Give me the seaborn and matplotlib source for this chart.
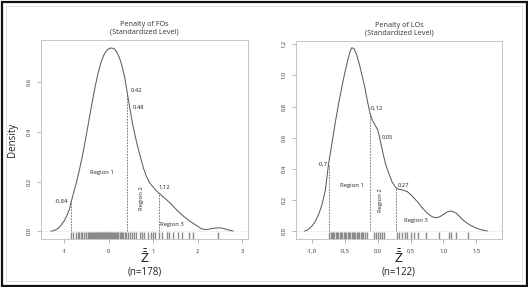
import matplotlib
matplotlib.use("Agg")
import matplotlib.pyplot as plt
import seaborn as sns
import numpy as np
import pandas as pd
from matplotlib.patches import Rectangle

# ---- density curves ----
fo_x = [-1.30, -1.25, -1.20, -1.12, -1.06, -1.00, -0.94, -0.88, -0.84, -0.78, -0.72, -0.66,
        -0.60, -0.54, -0.48, -0.42, -0.36, -0.30, -0.24, -0.18, -0.12, -0.06, 0.00, 0.06,
        0.12, 0.18, 0.24, 0.30, 0.36, 0.42, 0.48, 0.54, 0.60, 0.66, 0.72, 0.78, 0.85, 0.92,
        1.00, 1.06, 1.12, 1.20, 1.28, 1.38, 1.48, 1.56, 1.64, 1.72, 1.80, 1.90, 2.00, 2.08,
        2.16, 2.24, 2.32, 2.40, 2.48, 2.56, 2.64, 2.72, 2.80]
fo_y = [0.000, 0.002, 0.005, 0.014, 0.027, 0.042, 0.062, 0.090, 0.120, 0.160, 0.200, 0.245,
        0.295, 0.350, 0.410, 0.470, 0.530, 0.585, 0.635, 0.675, 0.705, 0.725, 0.735, 0.738,
        0.735, 0.722, 0.700, 0.665, 0.620, 0.555, 0.490, 0.430, 0.380, 0.335, 0.295, 0.255,
        0.220, 0.195, 0.178, 0.165, 0.155, 0.143, 0.130, 0.114, 0.095, 0.080, 0.067, 0.055,
        0.044, 0.032, 0.020, 0.011, 0.007, 0.008, 0.011, 0.013, 0.014, 0.012, 0.008, 0.004,
        0.001]

lo_x = [-1.12, -1.06, -1.00, -0.95, -0.90, -0.85, -0.80, -0.75, -0.70, -0.65, -0.60, -0.55,
        -0.50, -0.45, -0.42, -0.395, -0.36, -0.32, -0.28, -0.24, -0.20, -0.16, -0.117, -0.08,
        -0.04, 0.00, 0.04, 0.08, 0.12, 0.17, 0.22, 0.274, 0.32, 0.38, 0.45, 0.52, 0.60, 0.68,
        0.76, 0.82, 0.88, 0.94, 1.00, 1.06, 1.10, 1.14, 1.20, 1.26, 1.32, 1.40, 1.48, 1.56,
        1.67]
lo_y = [0.000, 0.012, 0.035, 0.065, 0.110, 0.170, 0.260, 0.430, 0.560, 0.690, 0.810, 0.920,
        1.020, 1.110, 1.155, 1.177, 1.170, 1.130, 1.070, 1.000, 0.930, 0.840, 0.756, 0.710,
        0.680, 0.650, 0.580, 0.500, 0.430, 0.370, 0.315, 0.282, 0.270, 0.265, 0.255, 0.228,
        0.192, 0.150, 0.115, 0.096, 0.087, 0.092, 0.108, 0.125, 0.130, 0.128, 0.115, 0.090,
        0.065, 0.042, 0.025, 0.012, 0.002]

# rug positions (approximate, read from the tick marks)
fo_rug = [-0.84, -0.80, -0.74, -0.70, -0.66, -0.62, -0.60, -0.56, -0.52, -0.50, -0.47, -0.44,
          -0.42, -0.40, -0.37, -0.35, -0.32, -0.30, -0.28, -0.26, -0.24, -0.22, -0.20, -0.18,
          -0.16, -0.14, -0.12, -0.10, -0.08, -0.06, -0.04, -0.02, 0.00, 0.02, 0.04, 0.06, 0.08,
          0.10, 0.12, 0.14, 0.16, 0.18, 0.20, 0.22, 0.25, 0.28, 0.30, 0.33, 0.36, 0.40, 0.44,
          0.48, 0.52, 0.58, 0.62, 0.70, 0.76, 0.80, 0.88, 0.95, 1.00, 1.05, 1.12, 1.20, 1.30,
          1.35, 1.45, 1.55, 1.65, 1.80, 1.90, 2.46]
lo_rug = [-0.74, -0.72, -0.70, -0.68, -0.66, -0.64, -0.62, -0.60, -0.58, -0.56, -0.54, -0.52,
          -0.50, -0.48, -0.46, -0.44, -0.42, -0.40, -0.38, -0.36, -0.34, -0.32, -0.30, -0.28,
          -0.26, -0.24, -0.22, -0.19, -0.16, -0.05, -0.02, 0.00, 0.03, 0.06, 0.09, 0.29, 0.33,
          0.37, 0.41, 0.45, 0.50, 0.55, 0.62, 0.73, 0.93, 1.08, 1.12, 1.20, 1.38]

# region cut points
fo_cuts = [-0.84, 0.42, 1.12]
lo_cuts = [-0.75, -0.117, 0.274]

fo_xticks = [-1, 0, 1, 2, 3]
fo_xticklabels = ["-1", "0", "1", "2", "3"]
fo_yticks = [0.0, 0.2, 0.4, 0.6]
fo_yticklabels = ["0,0", "0,2", "0,4", "0,6"]
lo_xticks = [-1.0, -0.5, 0.0, 0.5, 1.0, 1.5]
lo_xticklabels = ["-1,0", "-0,5", "0,0", "0,5", "1,0", "1,5"]
lo_yticks = [0.0, 0.2, 0.4, 0.6, 0.8, 1.0, 1.2]
lo_yticklabels = ["0,0", "0,2", "0,4", "0,6", "0,8", "1,0", "1,2"]

sns.set_style("white")
plt.rcParams['font.family'] = ['Open Sans', 'DejaVu Sans']
plt.rcParams['mathtext.fontset'] = 'dejavusans'

fig = plt.figure(figsize=(5.28, 2.87), dpi=100)
W, H = 528, 287


def px_axes(l, t, r, b):
    return fig.add_axes([l / W, 1 - b / H, (r - l) / W, (b - t) / H])


ax1 = px_axes(41, 40, 248, 239)
ax2 = px_axes(296, 41, 502, 239)

line_c = "#5e5e5e"


def draw_panel(ax, xs, ys, rug, cuts, title, n_text, xlim, ylim, xt, xtl, yt, ytl):
    df = pd.DataFrame({"x": xs, "y": ys})
    sns.lineplot(data=df, x="x", y="y", ax=ax, color=line_c, lw=0.75, sort=True)
    sns.rugplot(x=rug, ax=ax, height=0.033, color="#8a8a8a", lw=0.4)
    for c in cuts:
        h = np.interp(c, xs, ys)
        ax.plot([c, c], [0, h], ls=(0, (2, 1.5)), color="#666666", lw=0.6)
    ax.axhline(0, color="#c8c8c8", lw=0.5, ls=":")
    ax.set_xlim(*xlim)
    ax.set_ylim(*ylim)
    ax.set_xticks(xt)
    ax.set_xticklabels(xtl, fontsize=4.2, color="#333333")
    ax.set_yticks(yt)
    ax.set_yticklabels(ytl, fontsize=4.2, rotation=90, va="center", color="#333333")
    ax.tick_params(axis="both", length=3, width=0.5, color="#999999", direction="out", pad=4)
    ax.tick_params(axis="both", which="both", bottom=True, left=True)
    for s in ax.spines.values():
        s.set_color("#bbbbbb")
        s.set_linewidth(0.6)
    ax.set_title(title, fontsize=5.2, color="#333333", pad=5, linespacing=1.1)
    ax.set_xlabel("")
    ax.set_ylabel("")
    ax.text(0.5, -0.092, r"$\bar{\bar{\mathrm{Z}}}$", transform=ax.transAxes, ha="center",
            va="center", fontsize=8.5, color="#222222")
    ax.text(0.5, -0.165, n_text, transform=ax.transAxes, ha="center", va="center",
            fontsize=7, color="#222222")


draw_panel(ax1, fo_x, fo_y, fo_rug, fo_cuts, "Penalty of FOs\n(Standardized Level)",
           "(n=178)", (-1.52, 3.13), (-0.031, 0.77), fo_xticks, fo_xticklabels,
           fo_yticks, fo_yticklabels)
draw_panel(ax2, lo_x, lo_y, lo_rug, lo_cuts, "Penalty of LOs\n(Standardized Level)",
           "(n=122)", (-1.246, 1.894), (-0.049, 1.22), lo_xticks, lo_xticklabels,
           lo_yticks, lo_yticklabels)

ax1.set_ylabel("Density", fontsize=7, color="#222222", labelpad=6)

fs = 4.2
tc = "#222222"
# left panel annotations
ax1.text(-0.90, 0.122, "-0,84", ha="right", va="center", fontsize=fs, color=tc)
ax1.text(0.49, 0.569, "0,42", ha="left", va="center", fontsize=fs, color=tc)
ax1.text(0.55, 0.50, "0,48", ha="left", va="center", fontsize=fs, color=tc)
ax1.text(1.12, 0.176, "1,12", ha="left", va="center", fontsize=fs, color=tc)
ax1.text(-0.16, 0.237, "Region 1", ha="center", va="center", fontsize=fs, color=tc)
ax1.text(0.74, 0.134, "Region 2", ha="center", va="center", fontsize=fs, color=tc, rotation=90)
ax1.text(1.42, 0.027, "Region 3", ha="center", va="center", fontsize=fs, color=tc)
# right panel annotations
ax2.text(-0.76, 0.427, "-0,7", ha="right", va="center", fontsize=fs, color=tc)
ax2.text(-0.12, 0.792, "-0,12", ha="left", va="center", fontsize=fs, color=tc)
ax2.text(0.06, 0.606, "0,05", ha="left", va="center", fontsize=fs, color=tc)
ax2.text(0.30, 0.295, "0,27", ha="left", va="center", fontsize=fs, color=tc)
ax2.text(-0.395, 0.292, "Region 1", ha="center", va="center", fontsize=fs, color=tc)
ax2.text(0.046, 0.20, "Region 2", ha="center", va="center", fontsize=fs, color=tc, rotation=90)
ax2.text(0.58, 0.07, "Region 3", ha="center", va="center", fontsize=fs, color=tc)

# outer frames
fig.patches.append(Rectangle((1.5 / W, 1.5 / H), 1 - 3 / W, 1 - 3 / H, transform=fig.transFigure,
                             fill=False, edgecolor="#111111", lw=1.6))
fig.patches.append(Rectangle((6 / W, 6 / H), 1 - 12 / W, 1 - 12 / H, transform=fig.transFigure,
                             fill=False, edgecolor="#dddddd", lw=0.6))

fig.savefig("out.png", dpi=100)
